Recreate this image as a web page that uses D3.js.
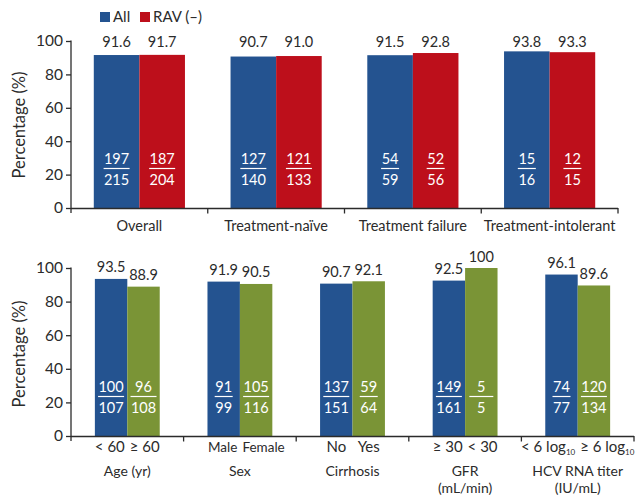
<!DOCTYPE html>
<html><head><meta charset="utf-8">
<script src="https://cdn.jsdelivr.net/npm/d3@7"></script>
<style>
html,body{margin:0;padding:0;background:#fff;}
svg text{font-family:Lato,"Open Sans",sans-serif;fill:#2b2b2b;}
</style></head>
<body><svg id="c" width="635" height="501"></svg>
<script>
// ---------- data ----------
const topCategories = ["Overall","Treatment-naïve","Treatment failure","Treatment-intolerant"];
const topAll = [91.6, 90.7, 91.5, 93.8];
const topRav = [91.7, 91.0, 92.8, 93.3];
const topAllNum = [197,127,54,15];
const topAllDen = [215,140,59,16];
const topRavNum = [187,121,52,12];
const topRavDen = [204,133,56,15];
const legendLabels = ["All","RAV (–)"];

const botGroups = [["Age (yr)"],["Sex"],["Cirrhosis"],["GFR","(mL/min)"],["HCV RNA titer","(IU/mL)"]];
const botSubA = ["< 60","Male","No","≥ 30","< 6 log|10"];
const botSubB = ["≥ 60","Female","Yes","< 30","≥ 6 log|10"];
const botA = [93.5, 91.9, 90.7, 92.5, 96.1];
const botB = [88.9, 90.5, 92.1, 100, 89.6];
const botANum = [100,91,137,149,74];
const botADen = [107,99,151,161,77];
const botBNum = [96,105,59,5,120];
const botBDen = [108,116,64,5,134];
const yTicks = [0,20,40,60,80,100];

// ---------- style ----------
const BLUE="#245390", RED="#bd0f1b", GREEN="#7a9436", INK="#2b2b2b";
const svg = d3.select("#c");

function yAxisPanel(g, y, x0, titleY){
  const ax = g.append("g").attr("transform",`translate(${x0},0)`)
    .call(d3.axisLeft(y).tickValues(yTicks).tickSize(5).tickPadding(3));
  ax.select(".domain").remove();
  ax.selectAll(".tick line").attr("stroke",INK).attr("stroke-width",1.3);
  ax.selectAll(".tick text").style("font-size","15.5px").attr("fill",INK).style("font-family","Lato");
  g.append("line").attr("x1",x0).attr("x2",x0).attr("y1",y(100)-0.5).attr("y2",y(0)+5)
    .attr("stroke",INK).attr("stroke-width",1.3);
  g.append("text").attr("transform",`translate(25,${titleY}) rotate(-90)`)
    .attr("text-anchor","middle").style("font-size","16.5px").text("Percentage (%)");
}
function xAxisPanel(g, x, y){
  const [a,b] = x.range();
  g.append("line").attr("x1",a).attr("x2",b).attr("y1",y(0)+0.5).attr("y2",y(0)+0.5)
    .attr("stroke",INK).attr("stroke-width",1.3);
  const bounds = x.domain().map(d=>x(d)+x.bandwidth());
  g.selectAll("line.sep").data(bounds).join("line").attr("class","sep")
    .attr("x1",d=>d).attr("x2",d=>d).attr("y1",y(0)).attr("y2",y(0)+5.5)
    .attr("stroke",INK).attr("stroke-width",1.3);
}
function fraction(g, cx, y, num, den, fs){
  const digits = Math.max(String(num).length, String(den).length);
  const lw = {1:24,2:18,3:26}[digits];
  g.append("text").attr("x",cx).attr("y",y(0)-44.5).attr("text-anchor","middle")
    .style("font-size",fs).style("fill","#fff").text(num);
  g.append("line").attr("x1",cx-lw/2).attr("x2",cx+lw/2)
    .attr("y1",y(0)-39.5).attr("y2",y(0)-39.5).attr("stroke","#fff").attr("stroke-width",1.2);
  g.append("text").attr("x",cx).attr("y",y(0)-23).attr("text-anchor","middle")
    .style("font-size",fs).style("fill","#fff").text(den);
}

// ---------- top panel ----------
const gt = svg.append("g");
const yT = d3.scaleLinear().domain([0,100]).range([208,41]);
const xT = d3.scaleBand().domain(topCategories).range([71,618]).padding(0);
const wT = xT.bandwidth()/3;
yAxisPanel(gt, yT, 71, 125);
topCategories.forEach((c,i)=>{
  const cx = xT(c)+xT.bandwidth()/2;
  const ser = [{v:topAll[i],col:BLUE,x:cx-wT,n:topAllNum[i],d:topAllDen[i]},
               {v:topRav[i],col:RED,x:cx,n:topRavNum[i],d:topRavDen[i]}];
  ser.forEach(s=>{
    gt.append("rect").attr("x",s.x).attr("width",wT).attr("y",yT(s.v)).attr("height",yT(0)-yT(s.v)).attr("fill",s.col);
    gt.append("text").attr("x",s.x+wT/2).attr("y",yT(100)+6).attr("text-anchor","middle")
      .style("font-size","14.5px").text(s.v.toFixed(1));
    fraction(gt, s.x+wT/2, yT, s.n, s.d, "14.5px");
  });
  gt.append("text").attr("x",cx).attr("y",230.5).attr("text-anchor","middle")
    .style("font-size","14.5px").text(c);
});
xAxisPanel(gt, xT, yT);
// legend
const legCols=[BLUE,RED], legX=[100,140];
legendLabels.forEach((l,i)=>{
  gt.append("rect").attr("x",legX[i]).attr("y",12).attr("width",10).attr("height",10).attr("fill",legCols[i]);
  gt.append("text").attr("x",legX[i]+13).attr("y",21.5).style("font-size","15px").text(l);
});

// ---------- bottom panel ----------
const gb = svg.append("g");
const yB = d3.scaleLinear().domain([0,100]).range([436,268]);
const xB = d3.scaleBand().domain(botGroups.map(d=>d[0])).range([71,634]).padding(0);
const wB = xB.bandwidth()*0.288;
yAxisPanel(gb, yB, 71, 354);
function subLabel(g, x, yy, txt, anchor, fs){
  const t = g.append("text").attr("x",x).attr("y",yy).attr("text-anchor",anchor).style("font-size",fs);
  const parts = txt.split("|");
  t.append("tspan").text(parts[0]);
  if(parts[1]) t.append("tspan").attr("dy",3).style("font-size","8px").text(parts[1]);
  return t;
}
botGroups.forEach((grp,i)=>{
  const key = grp[0];
  const cx = xB(key)+xB.bandwidth()/2;
  const ser = [{v:botA[i],col:BLUE,x:cx-wB,n:botANum[i],d:botADen[i]},
               {v:botB[i],col:GREEN,x:cx,n:botBNum[i],d:botBDen[i]}];
  ser.forEach(s=>{
    gb.append("rect").attr("x",s.x).attr("width",wB).attr("y",yB(s.v)).attr("height",yB(0)-yB(s.v)).attr("fill",s.col);
    gb.append("text").attr("x",s.x+wB/2).attr("y",yB(s.v)-6.5).attr("text-anchor","middle")
      .style("font-size","14.5px").text(s.v % 1 === 0 ? String(s.v) : s.v.toFixed(1));
    fraction(gb, s.x+wB/2, yB, s.n, s.d, "14.5px");
  });
  const fs = (key==="Sex") ? "13.5px" : "15px";
  const ta = subLabel(gb, cx-wB/2, 452, botSubA[i], "middle", fs);
  const tb = subLabel(gb, cx+wB/2, 452, botSubB[i], "middle", fs);
  const ba = ta.node().getBBox(), bb = tb.node().getBBox();
  if(ba.x+ba.width+4 > bb.x){
    ta.attr("x",cx-2.5).attr("text-anchor","end");
    tb.attr("x",cx+2.5).attr("text-anchor","start");
  }
  grp.forEach((line,j)=>{
    gb.append("text").attr("x",cx).attr("y",476+j*17).attr("text-anchor","middle")
      .style("font-size","14px").text(line);
  });
});
xAxisPanel(gb, xB, yB);
</script></body></html>
